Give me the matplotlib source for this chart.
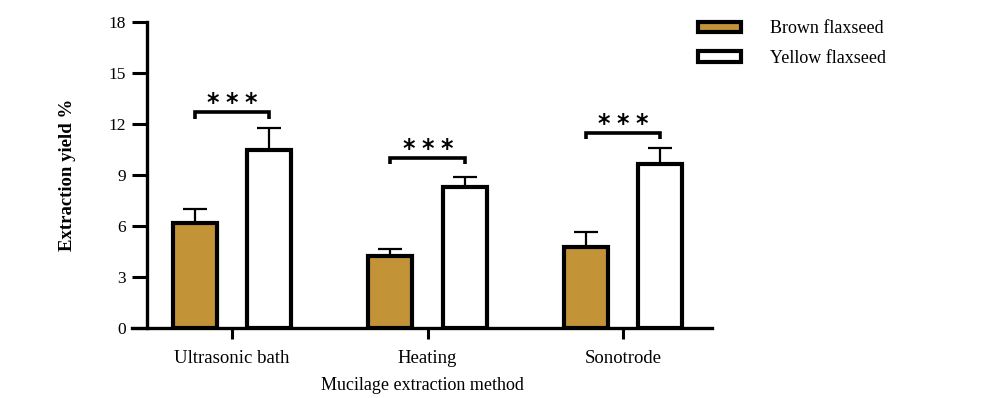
import matplotlib
matplotlib.use("Agg")
import matplotlib.pyplot as plt
import numpy as np

categories = ["Ultrasonic bath", "Heating", "Sonotrode"]
brown_vals = [6.2, 4.25, 4.77]
brown_err = [0.8, 0.4, 0.85]
yellow_vals = [10.45, 8.3, 9.67]
yellow_err = [1.3, 0.6, 0.9]
bracket_y = [12.7, 10.0, 11.5]
series_labels = ["Brown flaxseed", "Yellow flaxseed"]
yticks = [0, 3, 6, 9, 12, 15, 18]

plt.rcParams['font.family'] = ['Liberation Serif', 'DejaVu Serif']

fig = plt.figure(figsize=(10, 3.98), dpi=100)
ax = fig.add_axes([0.132, 1 - 328/398, 0.58, (328 - 22)/398])

x = np.arange(len(categories))
off = 0.19
w = 0.225
ew = 3.0
brown = "#C39337"

b1 = ax.bar(x - off, brown_vals, w, color=brown, edgecolor="black", linewidth=ew, zorder=3,
            label=series_labels[0])
b2 = ax.bar(x + off, yellow_vals, w, color="white", edgecolor="black", linewidth=ew, zorder=3,
            label=series_labels[1])
ax.errorbar(x - off, brown_vals, yerr=[np.zeros(3), brown_err], fmt="none", ecolor="black",
            elinewidth=1.6, capsize=8.5, capthick=1.6, zorder=2)
ax.errorbar(x + off, yellow_vals, yerr=[np.zeros(3), yellow_err], fmt="none", ecolor="black",
            elinewidth=1.6, capsize=8.5, capthick=1.6, zorder=2)

for xi, by in zip(x, bracket_y):
    ax.plot([xi - off, xi - off, xi + off, xi + off], [by - 0.38, by, by, by - 0.38],
            color="black", lw=2.6, solid_capstyle="butt", solid_joinstyle="miter", clip_on=False)
    for dx in (-0.097, 0.0, 0.097):
        ax.text(xi + dx, by - 0.2, "*", ha="center", va="bottom", fontsize=17,
                family="DejaVu Sans", fontweight="bold")

ax.set_xlim(-0.512, 2.455)
ax.set_ylim(0, 18)
ax.set_yticks(yticks)
ax.set_xticks(x)
ax.set_xticklabels(categories, fontsize=13.5)
ax.tick_params(axis="y", labelsize=12.5, width=2.2, length=11, pad=4)
ax.tick_params(axis="x", width=2.2, length=8, pad=8)

for s in ["top", "right"]:
    ax.spines[s].set_visible(False)
ax.spines["left"].set_position(("data", -0.435))
ax.spines["left"].set_linewidth(2.4)
ax.spines["bottom"].set_linewidth(2.4)

ax.set_xlabel("Mucilage extraction method", fontsize=13, labelpad=7)
ax.set_ylabel("Extraction yield %", fontsize=13.5, fontweight="bold")
ax.yaxis.set_label_coords(-0.097, 0.5)

leg = ax.legend(loc="upper left", bbox_to_anchor=(0.682, 0.99), bbox_transform=fig.transFigure,
                frameon=False, fontsize=13, handlelength=2.35, handleheight=0.5,
                handletextpad=1.6, labelspacing=0.7)

fig.savefig("out.png", dpi=100)
